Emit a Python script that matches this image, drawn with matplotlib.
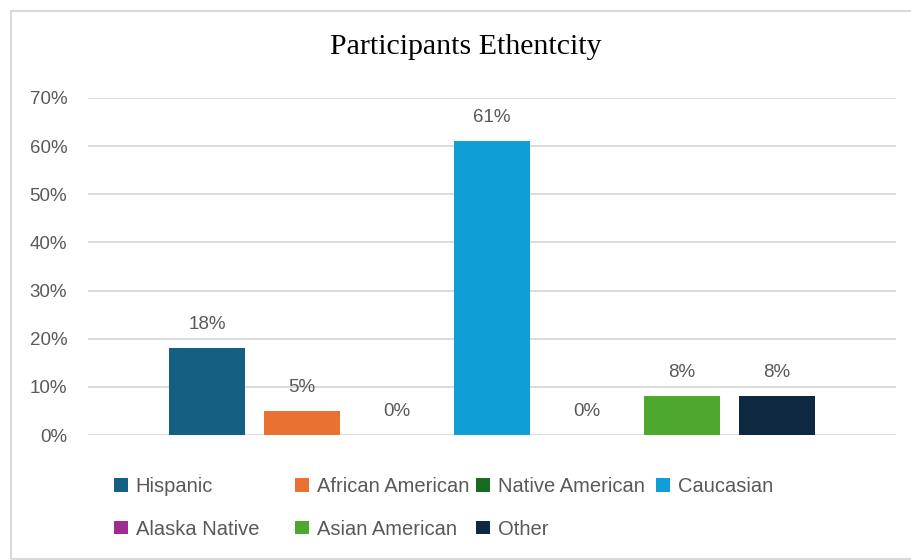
import matplotlib.pyplot as plt
from matplotlib.patches import Rectangle, Patch

# participants by ethnicity (share of total)
groups = ['Hispanic', 'African American', 'Native American', 'Caucasian',
          'Alaska Native', 'Asian American', 'Other']
shares = [0.18, 0.05, 0.0, 0.61, 0.0, 0.08, 0.08]
colors = ['#156082', '#E97132', '#196B24', '#0F9ED5',
          '#A02B93', '#4EA72E', '#0E2841']
yticks = [0, 0.1, 0.2, 0.3, 0.4, 0.5, 0.6, 0.7]

grey = '#595959'
sans = ['Liberation Sans', 'DejaVu Sans']

fig = plt.figure(figsize=(9.12, 5.6), dpi=100)
ax = fig.add_axes([88 / 912, 125 / 560, 808 / 912, 337 / 560])

x = list(range(len(groups)))
ax.bar(x, shares, width=0.79, color=colors, zorder=3)

for xi, v in zip(x, shares):
    ax.annotate(f'{v:.0%}', (xi, v), xytext=(0, 17), textcoords='offset points',
                ha='center', va='center', fontsize=13.5, color=grey, family=sans)

ax.set_xlim(-1.2526, 7.2526)
ax.set_ylim(0, 0.70)
ax.set_yticks(yticks)
ax.set_yticklabels([f'{t:.0%}' for t in yticks], fontsize=13.5, color=grey, family=sans)
ax.set_xticks([])
ax.tick_params(axis='y', length=0, pad=15)
ax.grid(axis='y', color='#D9D9D9', linewidth=1.3, zorder=0)
for s in ax.spines.values():
    s.set_visible(False)

fig.text(466 / 912, 1 - 47 / 560, 'Participants Ethentcity', ha='center', va='center',
         fontsize=21.5, family=['Liberation Serif', 'DejaVu Serif'], color='black')

# legend laid out in fixed-width columns
columns = [[0, 4], [1, 5], [2, 6], [3]]
col_x = [114, 295, 476, 656]
for cx, idx in zip(col_x, columns):
    handles = [Patch(facecolor=colors[i], label=groups[i]) for i in idx]
    fig.legend(handles=handles, loc='upper left',
               bbox_to_anchor=(cx / 912, 1 - 477 / 560), frameon=False,
               prop={'family': sans, 'size': 14.5}, labelcolor=grey,
               handlelength=0.68, handleheight=0.68, handletextpad=0.4,
               labelspacing=1.17, borderpad=0, borderaxespad=0)

# outer chart frame
fig.patches.append(Rectangle((11 / 912, 1 / 560), 1.0, 548 / 560,
                             transform=fig.transFigure, fill=False,
                             edgecolor='#D9D9D9', linewidth=1.5))

fig.savefig('out.png', dpi=100)
